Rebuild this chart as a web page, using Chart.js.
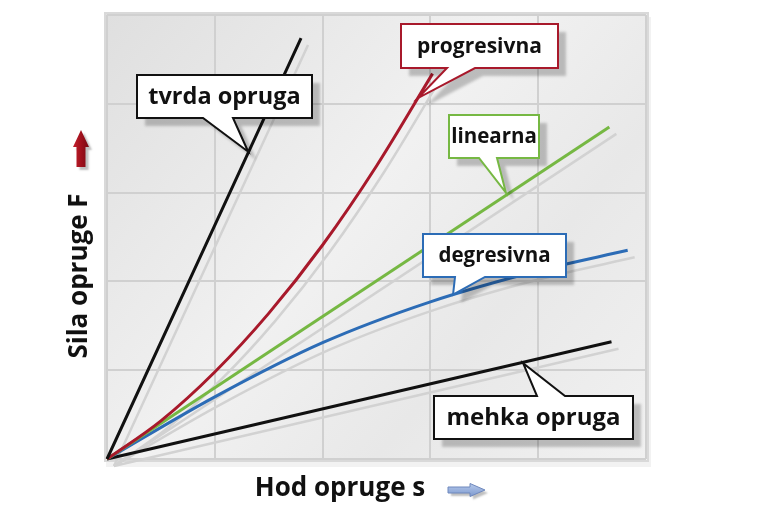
<!DOCTYPE html>
<html>
<head>
<meta charset="utf-8">
<script src="https://cdn.jsdelivr.net/npm/chart.js@4.4.1/dist/chart.umd.min.js"></script>
<style>
  html, body { margin: 0; padding: 0; background: #ffffff; }
  #c { display: block; }
</style>
</head>
<body>
<canvas id="c" width="768" height="512"></canvas>
<script>
// ---- data ----
const tvrdaX = [0, 1.80];
const tvrdaY = [0, 4.74];
const progX = [0, 0.5, 1, 1.5, 2, 2.5, 3.02];
const progY = [0, 0.43, 0.98, 1.64, 2.41, 3.30, 4.34];
const linX = [0, 4.66];
const linY = [0, 3.74];
const degX = [0, 1, 2, 3, 4, 4.83];
const degY = [0, 0.70, 1.31, 1.77, 2.12, 2.35];
const mehkaX = [0, 4.68];
const mehkaY = [0, 1.32];
const seriesNames = ['tvrda opruga', 'progresivna', 'linearna', 'degresivna', 'mehka opruga'];
const tipX = [1.31, 2.885, 3.70, 3.21, 3.86];
const tipY = [3.46, 4.065, 3.00, 1.85, 1.08];
const xTitle = 'Hod opruge s';
const yTitle = 'Sila opruge F';

const colors = ['#111111', '#a8192b', '#76b843', '#2c6cb6', '#111111'];
const xs = [tvrdaX, progX, linX, degX, mehkaX];
const ys = [tvrdaY, progY, linY, degY, mehkaY];
const pts = (a, b) => a.map((v, i) => ({ x: v, y: b[i] }));

const datasets = [];
seriesNames.forEach((n, i) => {
  datasets.push({
    label: n + ' shadow', shadow: true, data: pts(xs[i], ys[i]),
    borderColor: '#d2d2d2', borderWidth: 2.5, pointRadius: 0,
    cubicInterpolationMode: 'monotone', order: 10, clip: false
  });
});
seriesNames.forEach((n, i) => {
  datasets.push({
    label: n, data: pts(xs[i], ys[i]),
    borderColor: colors[i], borderWidth: 3, pointRadius: 0,
    cubicInterpolationMode: 'monotone', order: 1, clip: false
  });
});

// callout boxes (pixel layout) : [left, top, right, bottom], pointer base [a, b], side
const callouts = [
  { box: [137, 75, 312, 118], base: [203, 233], side: 'bottom', font: 23.5 },
  { box: [401, 24, 558, 68], base: [447, 475], side: 'bottom', font: 21 },
  { box: [449, 115, 539, 158], base: [479, 497], side: 'bottom', font: 20.5 },
  { box: [423, 234, 566, 277], base: [455, 485], side: 'bottom', font: 20.5 },
  { box: [434, 396, 633, 439], base: [537, 565], side: 'top', font: 24 }
];

const bgPlugin = {
  id: 'bg',
  beforeDraw(chart) {
    const { ctx, chartArea: a } = chart;
    ctx.save();
    ctx.fillStyle = 'rgba(0,0,0,0.05)';
    ctx.fillRect(a.left - 1, a.top + 2, a.right - a.left + 6, a.bottom - a.top + 6);
    const g = ctx.createLinearGradient(a.left, a.top, a.right, a.bottom);
    g.addColorStop(0, '#dfdfdf');
    g.addColorStop(0.45, '#f1f1f1');
    g.addColorStop(0.7, '#e8e8e8');
    g.addColorStop(1, '#f1f1f1');
    ctx.fillStyle = g;
    ctx.fillRect(a.left - 3, a.top - 3, a.right - a.left + 6, a.bottom - a.top + 6);
    ctx.strokeStyle = '#d9d9d9';
    ctx.lineWidth = 2;
    ctx.strokeRect(a.left - 2, a.top - 2, a.right - a.left + 4, a.bottom - a.top + 4);
    ctx.restore();
  },
  beforeDatasetDraw(chart, args) {
    if (args.meta._dataset && args.meta._dataset.shadow) {
      chart.ctx.save();
      chart.ctx.translate(7, 7);
    }
  },
  afterDatasetDraw(chart, args) {
    if (args.meta._dataset && args.meta._dataset.shadow) chart.ctx.restore();
  },
  afterDatasetsDraw(chart) {
    const { ctx, scales } = chart;
    callouts.forEach((c, i) => {
      const tx = scales.x.getPixelForValue(tipX[i]);
      const ty = scales.y.getPixelForValue(tipY[i]);
      const [l, t, r, b] = c.box;
      const [p, q] = c.base;
      ctx.save();
      ctx.beginPath();
      if (c.side === 'bottom') {
        ctx.moveTo(l, t); ctx.lineTo(r, t); ctx.lineTo(r, b);
        ctx.lineTo(q, b); ctx.lineTo(tx, ty); ctx.lineTo(p, b);
        ctx.lineTo(l, b); ctx.closePath();
      } else {
        ctx.moveTo(l, t); ctx.lineTo(p, t); ctx.lineTo(tx, ty); ctx.lineTo(q, t);
        ctx.lineTo(r, t); ctx.lineTo(r, b); ctx.lineTo(l, b); ctx.closePath();
      }
      ctx.shadowColor = 'rgba(0,0,0,0.22)';
      ctx.shadowOffsetX = 8; ctx.shadowOffsetY = 8; ctx.shadowBlur = 3;
      ctx.fillStyle = '#ffffff';
      ctx.fill();
      ctx.shadowColor = 'transparent';
      ctx.lineWidth = 2;
      ctx.lineJoin = 'miter';
      ctx.strokeStyle = colors[i];
      ctx.stroke();
      ctx.fillStyle = '#111111';
      ctx.font = '700 ' + c.font + 'px "Open Sans", sans-serif';
      ctx.textAlign = 'center';
      ctx.textBaseline = 'middle';
      ctx.fillText(seriesNames[i], (l + r) / 2, (t + b) / 2 + 1);
      ctx.restore();
    });

    // axis titles
    ctx.save();
    ctx.fillStyle = '#111111';
    ctx.font = '700 26px "Open Sans", sans-serif';
    ctx.textAlign = 'center';
    ctx.textBaseline = 'middle';
    ctx.fillText(xTitle, 340, 489);
    ctx.translate(80, 276);
    ctx.rotate(-Math.PI / 2);
    ctx.fillText(yTitle, 0, 0);
    ctx.restore();

    // red up arrow
    ctx.save();
    ctx.shadowColor = 'rgba(0,0,0,0.25)';
    ctx.shadowOffsetX = 3; ctx.shadowOffsetY = 3; ctx.shadowBlur = 2;
    let g = ctx.createLinearGradient(73, 0, 89, 0);
    g.addColorStop(0, '#c4202e'); g.addColorStop(0.5, '#a0101c'); g.addColorStop(1, '#7a0a14');
    ctx.fillStyle = g;
    ctx.beginPath();
    ctx.moveTo(81, 130); ctx.lineTo(89, 147); ctx.lineTo(85.5, 147); ctx.lineTo(85.5, 167);
    ctx.lineTo(76.5, 167); ctx.lineTo(76.5, 147); ctx.lineTo(73, 147); ctx.closePath();
    ctx.fill();
    ctx.restore();

    // blue right arrow
    ctx.save();
    ctx.shadowColor = 'rgba(0,0,0,0.25)';
    ctx.shadowOffsetX = 3; ctx.shadowOffsetY = 3; ctx.shadowBlur = 2;
    g = ctx.createLinearGradient(0, 484, 0, 496);
    g.addColorStop(0, '#b5c8ea'); g.addColorStop(1, '#7f9bd0');
    ctx.fillStyle = g;
    ctx.beginPath();
    ctx.moveTo(448, 487); ctx.lineTo(470, 487); ctx.lineTo(470, 483.5); ctx.lineTo(485, 490);
    ctx.lineTo(470, 496.5); ctx.lineTo(470, 493); ctx.lineTo(448, 493); ctx.closePath();
    ctx.fill();
    ctx.shadowColor = 'transparent';
    ctx.strokeStyle = '#6f88bd';
    ctx.lineWidth = 1;
    ctx.stroke();
    ctx.restore();
  }
};

new Chart(document.getElementById('c'), {
  type: 'line',
  data: { datasets },
  options: {
    responsive: false,
    animation: false,
    devicePixelRatio: 1,
    layout: { padding: { left: 107, top: 15, right: 122, bottom: 53 } },
    plugins: { legend: { display: false }, tooltip: { enabled: false } },
    scales: {
      x: {
        type: 'linear', min: 0, max: 5,
        ticks: { display: false, stepSize: 1 },
        grid: { color: '#d0d0d0', lineWidth: 2, drawTicks: false },
        border: { display: false },
        afterFit: s => { s.height = 0; }
      },
      y: {
        type: 'linear', min: 0, max: 5,
        ticks: { display: false, stepSize: 1 },
        grid: { color: '#d0d0d0', lineWidth: 2, drawTicks: false },
        border: { display: false },
        afterFit: s => { s.width = 0; }
      }
    }
  },
  plugins: [bgPlugin]
});
</script>
</body>
</html>
